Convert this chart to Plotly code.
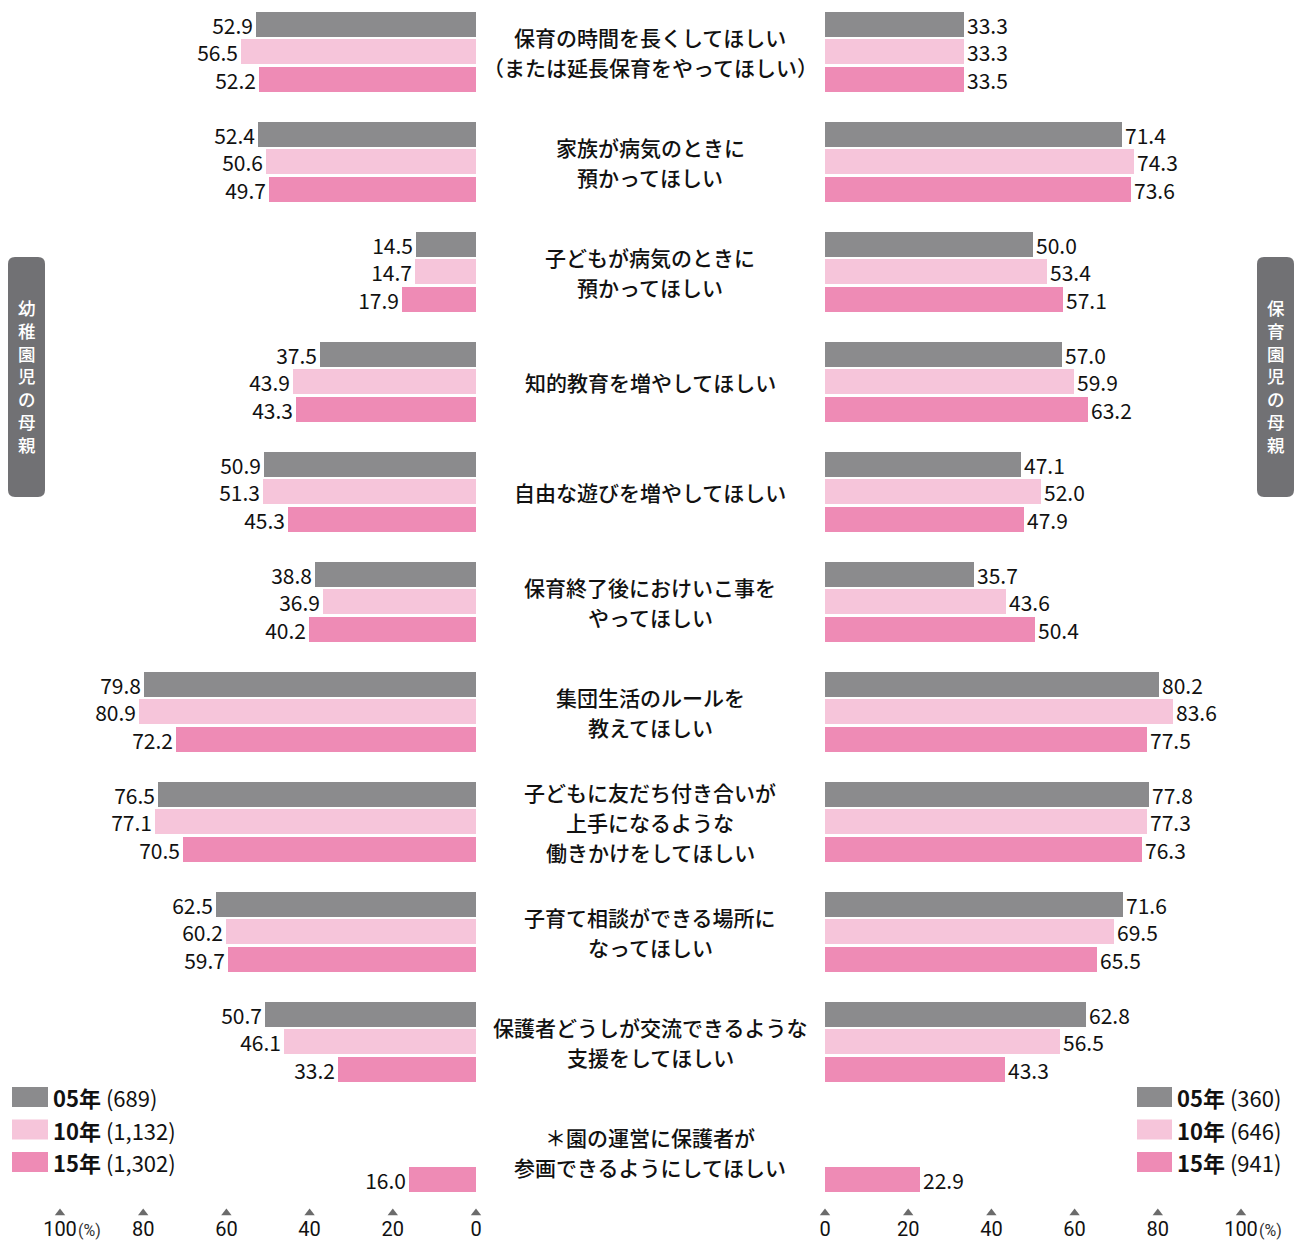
import plotly.graph_objects as go

# ---------------- data ----------------
categories = [
    "保育の時間を長くしてほしい<br>（または延長保育をやってほしい）",
    "家族が病気のときに<br>預かってほしい",
    "子どもが病気のときに<br>預かってほしい",
    "知的教育を増やしてほしい",
    "自由な遊びを増やしてほしい",
    "保育終了後におけいこ事を<br>やってほしい",
    "集団生活のルールを<br>教えてほしい",
    "子どもに友だち付き合いが<br>上手になるような<br>働きかけをしてほしい",
    "子育て相談ができる場所に<br>なってほしい",
    "保護者どうしが交流できるような<br>支援をしてほしい",
    "＊園の運営に保護者が<br>参画できるようにしてほしい",
]
years = ["05年", "10年", "15年"]

kinder_05 = [52.9, 52.4, 14.5, 37.5, 50.9, 38.8, 79.8, 76.5, 62.5, 50.7, None]
kinder_10 = [56.5, 50.6, 14.7, 43.9, 51.3, 36.9, 80.9, 77.1, 60.2, 46.1, None]
kinder_15 = [52.2, 49.7, 17.9, 43.3, 45.3, 40.2, 72.2, 70.5, 59.7, 33.2, 16.0]

nursery_05 = [33.3, 71.4, 50.0, 57.0, 47.1, 35.7, 80.2, 77.8, 71.6, 62.8, None]
nursery_10 = [33.3, 74.3, 53.4, 59.9, 52.0, 43.6, 83.6, 77.3, 69.5, 56.5, None]
nursery_15 = [33.5, 73.6, 57.1, 63.2, 47.9, 50.4, 77.5, 76.3, 65.5, 43.3, 22.9]

kinder_n = ["689", "1,132", "1,302"]
nursery_n = ["360", "646", "941"]

tick_vals = [0, 20, 40, 60, 80, 100]
tick_text = ["0", "20", "40", "60", "80", "100"]

left_title = "幼稚園児の母親"
right_title = "保育園児の母親"

# ---------------- style ----------------
COLORS = ["#8b8b8d", "#f6c5da", "#ee8bb5"]
W, H = 1295, 1243
PLOT_BOTTOM = 1215  # px
SLOT_PX = 27.5
Y_TOP = -0.89
JP = "Noto Sans CJK JP"
NUM = "Liberation Sans Narrow, Roboto, sans-serif"
TXT = "#111111"


def px_x(p):
    return p / W


def px_y(p):
    return (PLOT_BOTTOM - p) / PLOT_BOTTOM


SLOT = 4  # slots per group
ypos = lambda j: [i * SLOT + j for i in range(len(categories))]

fig = go.Figure()

left_series = [kinder_05, kinder_10, kinder_15]
right_series = [nursery_05, nursery_10, nursery_15]

for j in range(3):
    for series, xa, ya in ((left_series[j], "x", "y"), (right_series[j], "x2", "y2")):
        fig.add_trace(go.Bar(
            orientation="h",
            x=series,
            y=ypos(j),
            width=0.91,
            marker=dict(color=COLORS[j], line=dict(width=0)),
            text=[("" if v is None else f"{v:.1f}") for v in series],
            textposition="outside",
            constraintext="none",
            cliponaxis=False,
            textfont=dict(family=JP, size=21, color=TXT),
            xaxis=xa, yaxis=ya,
            showlegend=False,
            hoverinfo="skip",
        ))

# triangle tick marks
tri_y = (1213 - 24.5) / SLOT_PX
for xa, ya in (("x", "y"), ("x2", "y2")):
    fig.add_trace(go.Scatter(
        x=tick_vals, y=[tri_y] * len(tick_vals), mode="markers",
        marker=dict(symbol="triangle-up", size=9, color="#6b6b6b"),
        xaxis=xa, yaxis=ya, showlegend=False, hoverinfo="skip", cliponaxis=False,
    ))

yr = [Y_TOP + PLOT_BOTTOM / SLOT_PX, Y_TOP]
tickfont = dict(family=NUM, size=20, color=TXT)

fig.update_layout(
    width=W, height=H, autosize=False,
    margin=dict(l=0, r=0, t=0, b=H - PLOT_BOTTOM, pad=0, autoexpand=False),
    paper_bgcolor="white", plot_bgcolor="white",
    bargap=0,
    xaxis=dict(domain=[px_x(60), px_x(476)], range=[100, 0], showgrid=False,
               zeroline=False, showline=False, tickvals=tick_vals, ticktext=tick_text,
               ticks="", tickfont=tickfont, anchor="y", automargin=False),
    xaxis2=dict(domain=[px_x(825), px_x(1241)], range=[0, 100], showgrid=False,
                zeroline=False, showline=False, tickvals=tick_vals, ticktext=tick_text,
                ticks="", tickfont=tickfont, anchor="y2", automargin=False),
    yaxis=dict(range=yr, visible=False, domain=[0, 1], anchor="x", automargin=False),
    yaxis2=dict(range=yr, visible=False, domain=[0, 1], anchor="x2", matches="y",
                automargin=False),
    showlegend=False,
)

ann = []
# category labels, one annotation per line for 30px line spacing
LINE = 30
for i, c in enumerate(categories):
    lines = c.split("<br>")
    n = len(lines)
    for k, ln in enumerate(lines):
        ann.append(dict(text=ln, x=px_x(650), xref="paper", y=i * SLOT + 1, yref="y",
                        yshift=((n - 1) / 2 - k) * LINE,
                        showarrow=False, xanchor="center", yanchor="middle",
                        font=dict(family=JP, size=21, color=TXT, weight=500)))

# (%) labels
for xr in ("x", "x2"):
    ann.append(dict(text="(%)", x=100, xref=xr, y=px_y(1230), yref="paper", xanchor="left",
                    xshift=16, yanchor="middle", showarrow=False,
                    font=dict(family=NUM, size=16, color="#333333")))

shapes = []
# legends
legend_rows = [1097, 1129.5, 1162]
for (sx0, sx1, ns) in ((12, 48, kinder_n), (1137, 1172, nursery_n)):
    for k in range(3):
        cy = legend_rows[k]
        shapes.append(dict(type="rect", xref="paper", yref="paper",
                           x0=px_x(sx0), x1=px_x(sx1), y0=px_y(cy - 10), y1=px_y(cy + 10),
                           fillcolor=COLORS[k], line=dict(width=0)))
        ann.append(dict(text=f"<b>{years[k]}</b>\u00a0({ns[k]})", x=px_x(sx1 + 3), xref="paper",
                        y=px_y(cy), yref="paper", xanchor="left", yanchor="middle",
                        showarrow=False, font=dict(family=JP, size=22, color=TXT)))


# side title boxes (rounded)
def rounded(x0, y0, x1, y1, r):
    X0, X1 = px_x(x0), px_x(x1)
    Y0, Y1 = px_y(y0), px_y(y1)
    rx, ry = r / W, r / PLOT_BOTTOM
    return (f"M{X0 + rx},{Y0} L{X1 - rx},{Y0} Q{X1},{Y0} {X1},{Y0 - ry} "
            f"L{X1},{Y1 + ry} Q{X1},{Y1} {X1 - rx},{Y1} L{X0 + rx},{Y1} "
            f"Q{X0},{Y1} {X0},{Y1 + ry} L{X0},{Y0 - ry} Q{X0},{Y0} {X0 + rx},{Y0} Z")


for (bx0, bx1, title) in ((8, 45, left_title), (1257, 1294, right_title)):
    shapes.append(dict(type="path", xref="paper", yref="paper",
                       path=rounded(bx0, 257, bx1, 497, 7),
                       fillcolor="#717174", line=dict(width=0)))
    ann.append(dict(text="<br>".join(list(title)), x=px_x((bx0 + bx1) / 2), xref="paper",
                    y=px_y(376), yref="paper", xanchor="center", yanchor="middle",
                    showarrow=False,
                    font=dict(family=JP, size=17.5, color="white", weight=500)))

fig.update_layout(annotations=ann, shapes=shapes)

fig.write_html(
    "out.html",
    config={"responsive": False, "displayModeBar": False},
    post_script="document.body.style.margin='0';document.body.style.overflow='hidden';",
)
